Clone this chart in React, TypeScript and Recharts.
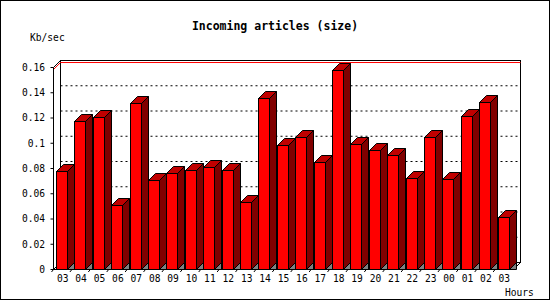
import React from 'react';
import { BarChart, Bar, XAxis, YAxis, CartesianGrid, ReferenceArea, ReferenceLine } from 'recharts';

const hours = [
  '03', '04', '05', '06', '07', '08', '09', '10', '11', '12', '13', '14', '15',
  '16', '17', '18', '19', '20', '21', '22', '23', '00', '01', '02', '03',
];

const kbPerSec = [
  0.0777, 0.118, 0.1204, 0.0507, 0.1315, 0.0705, 0.0768, 0.0792, 0.0808, 0.0792, 0.0531, 0.1362, 0.099,
  0.1053, 0.0848, 0.1584, 0.0998, 0.0943, 0.0903, 0.0721, 0.1053, 0.0713, 0.1212, 0.133, 0.0412,
];

const yTicks = [0, 0.02, 0.04, 0.06, 0.08, 0.1, 0.12, 0.14, 0.16];

const data = hours.map((h, i) => ({ hour: h, value: kbPerSec[i] }));
const maxValue = Math.max(...kbPerSec);

const DEPTH = 7;
const FONT = '"DejaVu Sans Mono", monospace';

// bar with a top and right side, like the old 3d bitmap charts
const Bar3D = (props: any) => {
  const { x, y, width, height } = props;
  const x0 = Math.floor(x) - 0.5;
  const w = Math.round(width);
  const yt = Math.round(y) + 0.5;
  const yb = y + height;
  const d = DEPTH;
  return (
    <g stroke="#000" strokeWidth={1}>
      <polygon points={`${x0 + w},${yb} ${x0 + w + d},${yb - d} ${x0 + w + d},${yb}`} fill="#808080" />
      <polygon points={`${x0 + w},${yt} ${x0 + w + d},${yt - d} ${x0 + w + d},${yb - d} ${x0 + w},${yb}`} fill="#800000" />
      <polygon points={`${x0},${yt} ${x0 + d},${yt - d} ${x0 + w + d},${yt - d} ${x0 + w},${yt}`} fill="#c00000" />
      <rect x={x0} y={yt} width={w} height={yb - yt} fill="#ff0000" />
    </g>
  );
};

// back wall of the plot, shifted up and right by the depth
const Wall = (props: any) => {
  const { x, y, width, height } = props;
  const d = DEPTH;
  const b = y + height;
  const r = x + width;
  return (
    <g stroke="#000" strokeWidth={1} fill="none">
      <rect x={x + d} y={y - d} width={width} height={height} fill="none" />
      <line x1={x} y1={y} x2={x + d} y2={y - d} />
      <line x1={x} y1={b} x2={x + d} y2={b - d} />
      <line x1={r} y1={b} x2={r + d} y2={b - d} />
    </g>
  );
};

const MaxLine = (props: any) => {
  const { x1, y1, x2, y2 } = props;
  const d = DEPTH;
  return (
    <polyline
      points={`${x1},${y1} ${x1 + d},${y1 - d} ${x2 + d},${y2 - d}`}
      stroke="#ff0000"
      strokeWidth={1}
      fill="none"
    />
  );
};

const GridLine = (p: any) => {
  if (Math.abs(p.y1 - p.y) < 1 || Math.abs(p.y1 - (p.y + p.height)) < 1) return <g key={p.key} />;
  return (
    <line
      key={p.key}
      x1={p.x1 + DEPTH}
      y1={p.y1 - DEPTH}
      x2={p.x2 + DEPTH}
      y2={p.y2 - DEPTH}
      stroke="#000"
      strokeWidth={1}
      strokeDasharray="2 3"
    />
  );
};

const HourTick = (p: any) => {
  const band = 460 / hours.length;
  const bx = p.x - band / 2;
  return (
    <g>
      <line x1={bx} y1={269.5} x2={bx - 2} y2={272} stroke="#000" />
      <text x={p.x} y={281.5} textAnchor="middle" fontFamily={FONT} fontSize={9.6} fill="#000">
        {p.payload.value}
      </text>
    </g>
  );
};

const textStyle: React.CSSProperties = {
  position: 'absolute',
  fontFamily: FONT,
  fontSize: 9.6,
  color: '#000',
  whiteSpace: 'nowrap',
  lineHeight: 1,
};

export default function App() {
  return (
    <div style={{ position: 'absolute', left: 0, top: 0, width: 550, height: 300, background: '#fff' }}>
      <BarChart
        width={550}
        height={300}
        data={data}
        margin={{ top: 67.5, right: 36.5, bottom: 0.5, left: 0 }}
        barSize={11}
      >
        <ReferenceArea y1={0} y2={0.16} shape={Wall} ifOverflow="visible" />
        <CartesianGrid vertical={false} horizontal={GridLine} />
        <XAxis
          dataKey="hour"
          height={30}
          interval={0}
          tickLine={false}
          axisLine={{ stroke: '#000' }}
          tick={HourTick}
        />
        <YAxis
          width={53.5}
          domain={[0, 0.16]}
          ticks={yTicks}
          interval={0}
          tickSize={3}
          tickMargin={5.5}
          tickLine={{ stroke: '#000' }}
          axisLine={{ stroke: '#000' }}
          tick={{ fill: '#000', fontFamily: FONT, fontSize: 9.6 }}
        />
        <ReferenceLine y={maxValue} shape={MaxLine} ifOverflow="visible" />
        <Bar dataKey="value" shape={Bar3D} isAnimationActive={false} />
      </BarChart>
      <div style={{ ...textStyle, left: 0, top: 21, width: 550, textAlign: 'center', fontWeight: 'bold', fontSize: 11.5 }}>
        Incoming articles (size)
      </div>
      <div style={{ ...textStyle, left: 30, top: 33 }}>Kb/sec</div>
      <div style={{ ...textStyle, left: 505, top: 288 }}>Hours</div>
      <div style={{ position: 'absolute', left: 0, top: 0, width: 548, height: 298, border: '1px solid #000' }} />
    </div>
  );
}
